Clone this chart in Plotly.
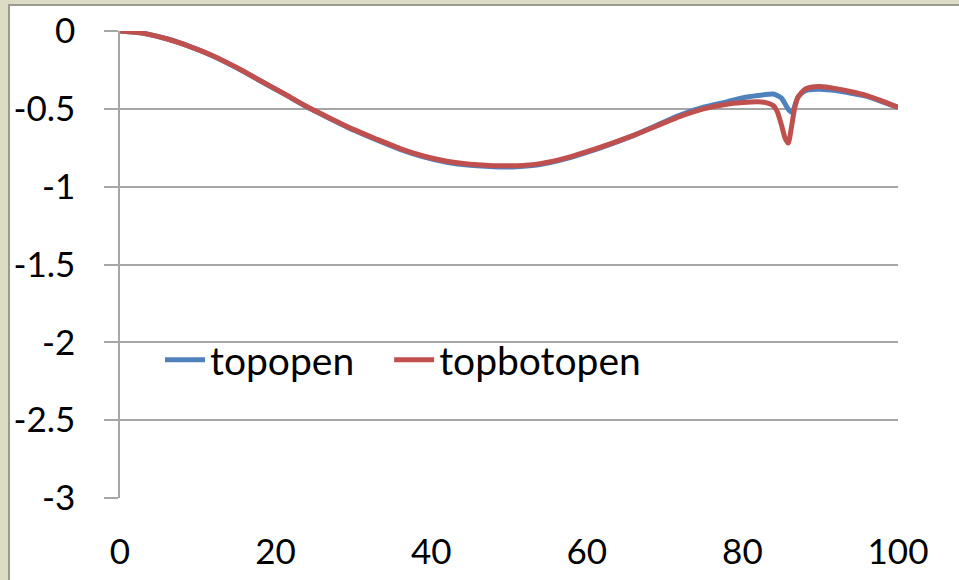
import plotly.graph_objects as go

# Sampled positions along the section (0-100)
x_red = [0, 3, 6, 9, 12, 15, 18, 21, 24, 27, 30, 33, 36, 39, 42, 45, 48, 51, 54, 57,
         60, 63, 66, 69, 72, 75, 78, 80, 82, 83, 84, 84.5, 85, 85.5, 85.9, 86.3, 86.7,
         87.1, 88, 89, 90, 92, 94, 96, 98, 100]
topbotopen = [0, -0.015, -0.05, -0.10, -0.16, -0.235, -0.318, -0.40, -0.485, -0.56, -0.632,
              -0.695, -0.755, -0.803, -0.837, -0.856, -0.865, -0.865, -0.852, -0.82,
              -0.775, -0.725, -0.67, -0.61, -0.548, -0.50, -0.47, -0.46, -0.455, -0.46,
              -0.48, -0.52, -0.60, -0.69, -0.72, -0.62, -0.50, -0.43, -0.376, -0.36,
              -0.357, -0.37, -0.39, -0.415, -0.45, -0.49]

x_blue = [0, 3, 6, 9, 12, 15, 18, 21, 24, 27, 30, 33, 36, 39, 42, 45, 48, 51, 54, 57,
          60, 63, 66, 69, 72, 75, 78, 80, 82, 84, 85, 85.5, 86, 86.4, 86.8, 87.2, 88,
          89, 90, 92, 94, 96, 98, 100]
topopen = [0, -0.015, -0.05, -0.10, -0.162, -0.237, -0.32, -0.402, -0.487, -0.563, -0.636,
           -0.70, -0.76, -0.808, -0.843, -0.863, -0.872, -0.872, -0.858, -0.825,
           -0.78, -0.728, -0.672, -0.605, -0.54, -0.49, -0.455, -0.43, -0.415, -0.405,
           -0.43, -0.47, -0.51, -0.525, -0.47, -0.42, -0.385, -0.376, -0.374, -0.383,
           -0.40, -0.42, -0.455, -0.49]

y_ticks = [0, -0.5, -1, -1.5, -2, -2.5, -3]
y_tick_text = ["0", "-0.5", "-1", "-1.5", "-2", "-2.5", "-3"]
x_ticks = [0, 20, 40, 60, 80, 100]

BLUE = "#4f81bd"
RED = "#c0504d"
GRID = "#a6a6a6"
FONT = dict(family="Lato, 'Open Sans', sans-serif", size=35, color="#000000")
LEGEND_FONT = dict(family="Lato, 'Open Sans', sans-serif", size=39, color="#000000")
NBSP = "\u00a0"

fig = go.Figure()
fig.add_trace(go.Scatter(x=x_blue, y=topopen, mode="lines", name="topopen" + NBSP * 3,
                         line=dict(color=BLUE, width=5, shape="spline", smoothing=0.6)))
fig.add_trace(go.Scatter(x=x_red, y=topbotopen, mode="lines", name="topbotopen",
                         line=dict(color=RED, width=5, shape="spline", smoothing=0.6)))

# beige frame strips with grey border line (left and top)
L, R, T, B = 120, 61, 31, 82
W, H = 959, 580
pw, ph = W - L - R, H - T - B


def px_x(p):
    return (p - L) / pw


def px_y(p):
    return (H - B - p) / ph


shapes = [
    dict(type="rect", xref="paper", yref="paper", x0=px_x(-5), x1=px_x(8),
         y0=px_y(H + 5), y1=px_y(-5), fillcolor="#dcdbc4", line=dict(width=0), layer="below"),
    dict(type="rect", xref="paper", yref="paper", x0=px_x(-5), x1=px_x(W + 5),
         y0=px_y(4), y1=px_y(-5), fillcolor="#dcdbc4", line=dict(width=0), layer="below"),
    dict(type="line", xref="paper", yref="paper", x0=px_x(9), x1=px_x(9),
         y0=px_y(5), y1=px_y(H + 5), line=dict(color="#9a9a90", width=2), layer="below"),
    dict(type="line", xref="paper", yref="paper", x0=px_x(8), x1=px_x(W + 5),
         y0=px_y(5), y1=px_y(5), line=dict(color="#9a9a90", width=2), layer="below"),
]

fig.update_layout(
    width=W, height=H,
    margin=dict(l=L, r=R, t=T, b=B, autoexpand=False),
    paper_bgcolor="#ffffff", plot_bgcolor="#ffffff",
    font=FONT,
    shapes=shapes,
    showlegend=True,
    legend=dict(orientation="h", x=px_x(160), y=px_y(360), xanchor="left", yanchor="middle",
                bgcolor="rgba(0,0,0,0)", font=LEGEND_FONT, itemwidth=40),
    xaxis=dict(range=[0, 100], tickvals=x_ticks, showgrid=False, zeroline=False,
               showline=False, ticks="", ticklabelstandoff=30, tickfont=FONT,
               automargin=False),
    xaxis2=dict(range=[0, 100], overlaying="x", side="top", tickvals=x_ticks,
                showgrid=False, zeroline=False, showline=True, linecolor=GRID, linewidth=1.5,
                ticks="inside", ticklen=13, tickwidth=1.5, tickcolor=GRID,
                showticklabels=False, automargin=False),
    yaxis=dict(range=[-3, 0], tickvals=y_ticks, ticktext=y_tick_text, showgrid=True,
               gridcolor=GRID, gridwidth=1.5, zeroline=False, showline=True,
               linecolor=GRID, linewidth=1.5, ticks="outside", ticklen=14, tickwidth=1.5,
               tickcolor=GRID, ticklabelstandoff=22, tickfont=FONT, automargin=False),
)

fig.write_html("out.html")
